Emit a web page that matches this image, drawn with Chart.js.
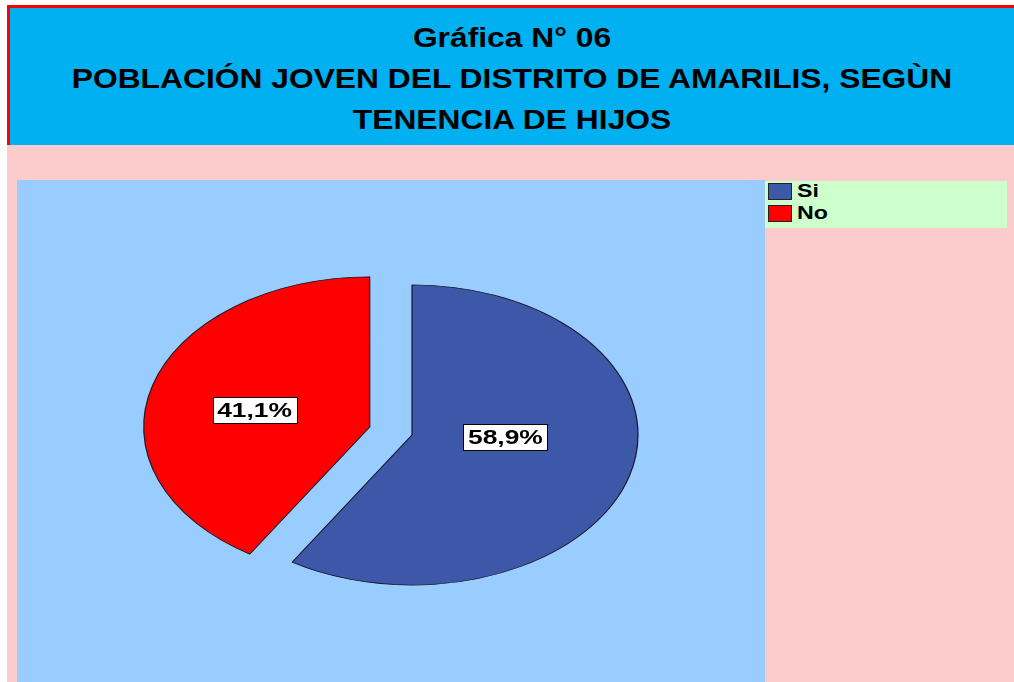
<!DOCTYPE html>
<html><head><meta charset="utf-8">
<script src="https://cdn.jsdelivr.net/npm/chart.js@4.4.0/dist/chart.umd.min.js"></script>
<style>
body{margin:0;width:1014px;height:682px;overflow:hidden;background:#fff;position:relative;font-family:"Liberation Sans",Arial,sans-serif;}
#title{position:absolute;left:7px;top:5px;width:1007px;height:140px;background:#00B0F0;border-top:3px solid #f00;border-left:3px solid #f00;box-sizing:border-box;}
.tl{position:absolute;left:0;width:1004px;text-align:center;font-weight:bold;font-size:28px;line-height:41px;color:#000;white-space:nowrap;transform:scaleX(1.135);transform-origin:50% 50%;}
#pink{position:absolute;left:7px;top:145px;width:1007px;height:537px;background:#FCCBCB;}
#plot{position:absolute;left:17px;top:180px;width:748px;height:502px;background:#99CCFF;}
#legend{position:absolute;left:765px;top:181px;width:242px;height:47px;background:#CCFFCC;}
.li{position:absolute;left:3px;height:17px;}
.sw{position:absolute;left:0;top:0;width:22px;height:15px;border:1px solid #222;}
.lt{position:absolute;left:29px;top:-4px;font-weight:bold;font-size:19px;line-height:24px;color:#000;transform:scaleX(1.22);transform-origin:0 50%;white-space:nowrap;}
canvas{position:absolute;left:0;top:0;}
</style></head>
<body>
<div id="title">
  <div class="tl" style="top:9px">Gráfica N° 06</div>
  <div class="tl" style="top:50px">POBLACIÓN JOVEN DEL DISTRITO DE AMARILIS, SEGÙN</div>
  <div class="tl" style="top:91px">TENENCIA DE HIJOS</div>
</div>
<div id="pink"></div>
<div id="plot"></div>
<div id="legend"></div>
<canvas id="c" width="1014" height="682"></canvas>
<script>
const categories = ['Si', 'No'];
const percentages = [58.9, 41.1];

const sliceColors = ['#3D57A9', '#FF0000'];
const legendEl = document.getElementById('legend');
categories.forEach((c, i) => {
  const d = document.createElement('div');
  d.className = 'li';
  d.style.top = (2 + i * 22) + 'px';
  d.innerHTML = '<div class="sw" style="background:' + sliceColors[i] + '"></div><div class="lt">' + c + '</div>';
  legendEl.appendChild(d);
});

const SQ = 0.664;
const pieLook = {
  id: 'pieLook',
  beforeDatasetsDraw(chart, args, opts) {
    const meta = chart.getDatasetMeta(0);
    const ca = chart.chartArea;
    const cy = (ca.top + ca.bottom) / 2;
    meta.data.forEach((arc, i) => {
      const d = opts.explode[i] || 0;
      const mid = (arc.startAngle + arc.endAngle) / 2;
      arc._dx = Math.cos(mid) * d; arc._dy = Math.sin(mid) * d;
      arc.x += arc._dx; arc.y += arc._dy;
    });
    const ctx = chart.ctx;
    ctx.save();
    ctx.translate(0, cy); ctx.scale(1, SQ); ctx.translate(0, -cy);
  },
  afterDatasetsDraw(chart, args, opts) {
    const ctx = chart.ctx;
    ctx.restore();
    const meta = chart.getDatasetMeta(0);
    const ca = chart.chartArea;
    const cy0 = (ca.top + ca.bottom) / 2;
    meta.data.forEach((arc, i) => {
      const mid = (arc.startAngle + arc.endAngle) / 2;
      const R = arc.outerRadius * opts.labelFrac[i];
      const cx = arc.x;
      const cy = cy0 + (arc.y - cy0) * SQ;
      const lx = cx + Math.cos(mid) * R;
      const ly = cy + Math.sin(mid) * R * opts.labelYFrac[i];
      const txt = percentages[i].toFixed(1).replace('.', ',') + '%';
      const w = 84, h = 26;
      ctx.save();
      ctx.fillStyle = '#fff';
      ctx.fillRect(Math.round(lx - w / 2) + 0.5, Math.round(ly - h / 2) + 0.5, w, h);
      ctx.strokeStyle = '#000'; ctx.lineWidth = 1;
      ctx.strokeRect(Math.round(lx - w / 2) + 0.5, Math.round(ly - h / 2) + 0.5, w, h);
      ctx.translate(lx, ly + 1);
      ctx.scale(1.32, 1);
      ctx.font = 'bold 20px "Liberation Sans", Arial, sans-serif';
      ctx.fillStyle = '#000';
      ctx.textAlign = 'center'; ctx.textBaseline = 'middle';
      ctx.fillText(txt, 0, 0);
      ctx.restore();
      arc.x -= arc._dx; arc.y -= arc._dy;
    });
  }
};

new Chart(document.getElementById('c'), {
  type: 'pie',
  data: {
    labels: categories,
    datasets: [{
      data: percentages,
      backgroundColor: sliceColors,
      borderColor: '#1a1a2a',
      borderWidth: 1.2,
      radius: 226
    }]
  },
  options: {
    responsive: false,
    animation: false,
    events: [],
    layout: { padding: { left: 0, right: 190, top: 188, bottom: 0 } },
    plugins: {
      legend: { display: false },
      tooltip: { enabled: false },
      pieLook: { explode: [0, 44], labelFrac: [0.43, 0.53], labelYFrac: [0.08, 0.5] }
    }
  },
  plugins: [pieLook]
});
</script>
</body></html>
